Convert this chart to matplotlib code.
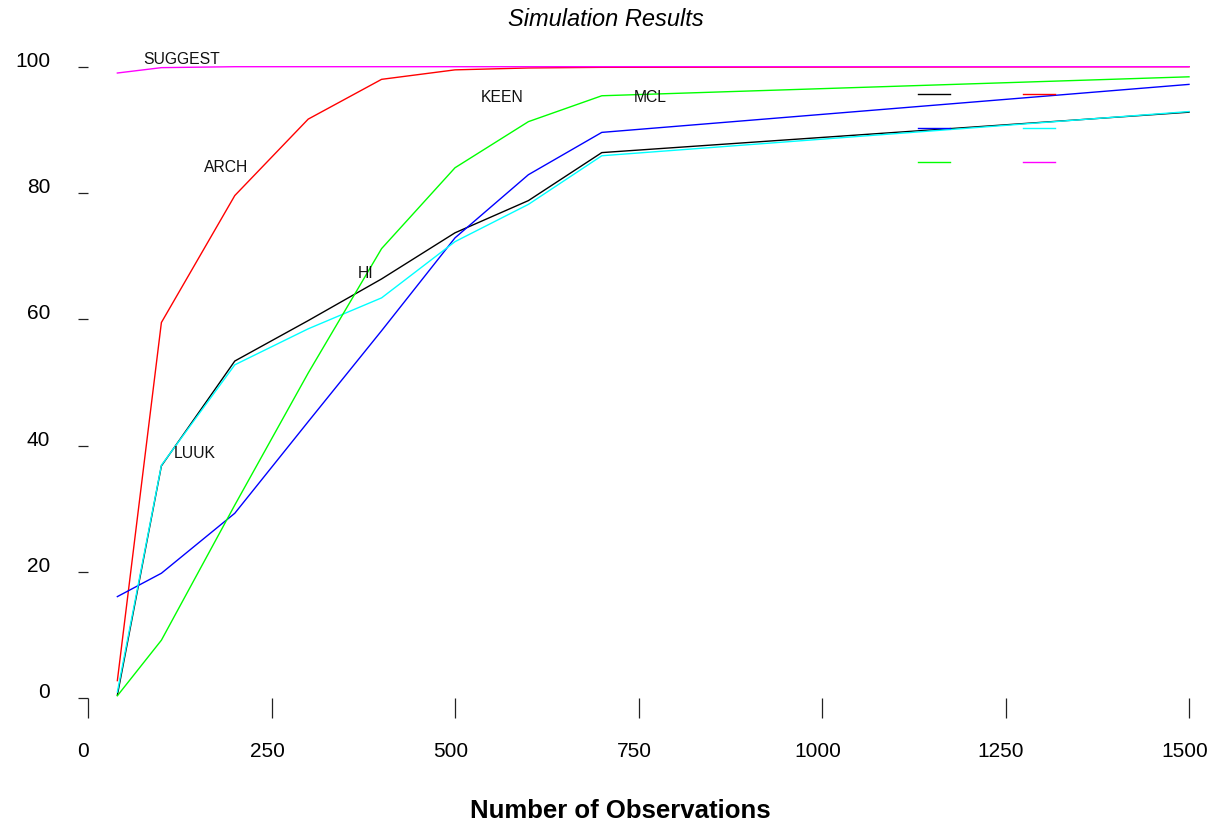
import numpy as np
import matplotlib
matplotlib.use('Agg')
import matplotlib.pyplot as plt
from matplotlib.lines import Line2D
from matplotlib.transforms import ScaledTranslation

plt.rcParams['font.family'] = ['Liberation Sans', 'DejaVu Sans']

# observations on the x axis
n_obs = [40, 100, 200, 300, 400, 500, 600, 700, 1500]

# percentage per method
black = [0.5, 36.8, 53.4, 59.8, 66.4, 73.7, 78.8, 86.4, 92.8]
red = [2.8, 59.5, 79.6, 91.7, 98.0, 99.5, 99.8, 99.9, 100.0]
blue = [16.1, 19.8, 29.3, 43.8, 58.2, 72.9, 82.9, 89.6, 97.2]
cyan = [1.0, 36.9, 52.8, 58.5, 63.4, 72.3, 78.2, 85.9, 92.9]
green = [0.4, 9.2, 30.6, 51.5, 71.2, 84.0, 91.3, 95.4, 98.4]
magenta = [99.0, 99.85, 100.0, 100.0, 100.0, 100.0, 100.0, 100.0, 100.0]

# inline labels (x, y in data units)
label_txt = ['SUGGEST', 'ARCH', 'KEEN', 'MCL', 'HI', 'LUUK']
label_x = [127, 188, 564, 766, 378, 145]
label_y = [101.1, 84.1, 95.2, 95.2, 67.2, 38.8]

xticks = [0, 250, 500, 750, 1000, 1250, 1500]
yticks = [0, 20, 40, 60, 80, 100]

W, H = 1215, 826
fig = plt.figure(figsize=(W / 100, H / 100), dpi=100)
ax = fig.add_axes([88 / W, (H - 698.3) / H, (1189 - 88) / W, (698.3 - 66.7) / H])
ax.set_xlim(0, 1500)
ax.set_ylim(0, 100)
for s in ax.spines.values():
    s.set_visible(False)

series = [(black, 'black'), (red, 'red'), (blue, 'blue'),
          (cyan, 'cyan'), (green, '#00ff00'), (magenta, 'magenta')]
handles = {}
for vals, col in series:
    ln, = ax.plot(n_obs, vals, color=col, lw=1.0, clip_on=False)
    handles[col] = ln

for t, x, y in zip(label_txt, label_x, label_y):
    ax.text(x, y, t, ha='center', va='center', fontsize=11.3, color='#111111')

ax.set_xticks(xticks)
ax.set_xticklabels([str(v) for v in xticks])
ax.set_yticks(yticks)
ax.set_yticklabels([str(v) for v in yticks])
ax.tick_params(axis='x', length=14.4, width=0.9, color='#222222', pad=17, labelsize=15)
ax.tick_params(axis='y', length=7.2, width=0.9, color='#222222', pad=20, labelsize=15)
off = ScaledTranslation(-4.5 / 100, 0, fig.dpi_scale_trans)
for lab in ax.get_xticklabels():
    lab.set_transform(lab.get_transform() + off)
for lab in ax.get_yticklabels():
    lab.set_va('baseline')

# legend without text, two columns
order = ['black', 'blue', '#00ff00', 'red', 'cyan', 'magenta']
leg = ax.legend([handles[c] for c in order], [''] * 6, ncol=2, frameon=False,
                fontsize=10, handlelength=2.3, handletextpad=0, columnspacing=5.25,
                labelspacing=1.42, borderpad=0, borderaxespad=0,
                loc='upper left', bbox_to_anchor=(918 / W, (H - 88) / H),
                bbox_transform=fig.transFigure)

fig.text(606 / W, 1 - 19.5 / H, 'Simulation Results', ha='center', va='center',
         fontsize=17, style='italic')
fig.text(620 / W, 1 - 811 / H, 'Number of Observations', ha='center', va='center',
         fontsize=18.5, fontweight='bold')

fig.savefig('out.png', dpi=100, facecolor='white')
